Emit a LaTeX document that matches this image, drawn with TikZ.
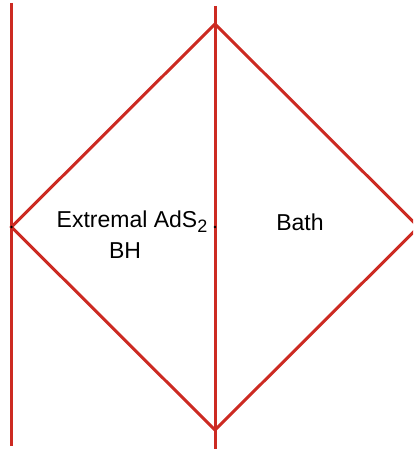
\documentclass[tikz,border=0pt]{standalone}
\usepackage{fontspec}
\setmainfont{Liberation Sans}
\definecolor{penrose}{RGB}{204,42,34}
\begin{document}
\begin{tikzpicture}[x=1pt,y=-1pt,
  redline/.style={draw=penrose,line width=3pt},
  dot/.style={circle,fill=black,inner sep=0pt,minimum size=2.8pt},
  lbl/.style={font=\fontsize{23}{28}\selectfont,anchor=base,inner sep=0pt}]
\useasboundingbox (0,0) rectangle (413,449);
\clip (0,0) rectangle (413,449);
\coordinate (LT) at (11.5,3);
\coordinate (LB) at (11.5,446);
\coordinate (MT) at (215,6);
\coordinate (MB) at (215,452);
\coordinate (L) at (11.5,227);
\coordinate (T) at (215,24);
\coordinate (R) at (418.5,227);
\coordinate (B) at (215,430);
\draw[redline] (LT) -- (LB);
\draw[redline] (MT) -- (MB);
\draw[redline,line join=miter] (L) -- (T) -- (R) -- (B) -- cycle;
\node[dot] (d1) at (11.5,227) {};
\node[dot] (d2) at (215,227) {};
\node[lbl] (ext) at (132,227) {Extremal AdS\raisebox{-5pt}{\fontsize{18}{18}\selectfont 2}};
\node[lbl] (bh) at (125,258) {BH};
\node[lbl] (bath) at (300,230) {Bath};
\end{tikzpicture}
\end{document}
